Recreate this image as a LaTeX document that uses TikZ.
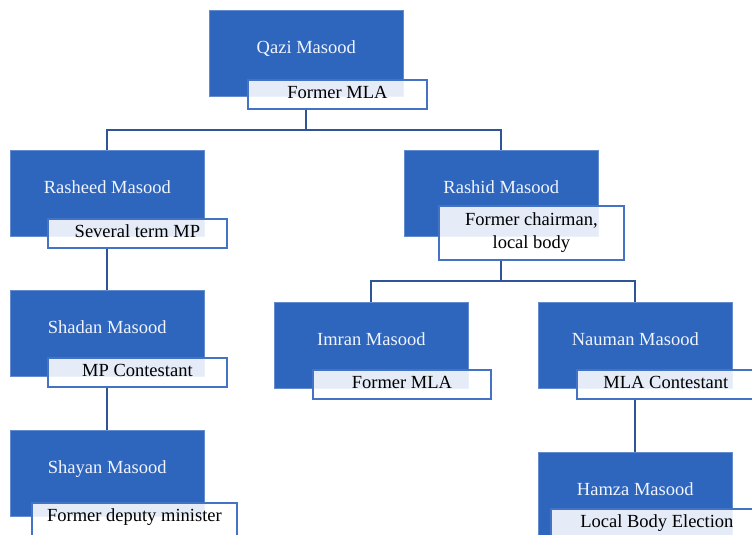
\documentclass[tikz,border=0pt]{standalone}
\usepackage{fontspec}
\setmainfont{Liberation Serif}
\definecolor{boxblue}{RGB}{46,102,190}
\definecolor{edgeblue}{RGB}{68,114,196}
\definecolor{linkblue}{RGB}{47,85,151}
\definecolor{nametxt}{RGB}{240,244,252}
\begin{document}
\begin{tikzpicture}[x=1pt,y=-1pt,font=\fontsize{18.5}{23}\selectfont,
  bluebox/.style={rectangle,fill=boxblue,draw=boxblue!75!white,line width=0.6pt,
    minimum width=194pt,minimum height=86pt,inner sep=0pt,anchor=north west,
    text=nametxt,text height=12pt,text depth=12pt},
  lblbase/.style={rectangle,draw=edgeblue,line width=1.8pt,fill=white,
    fill opacity=0.88,text opacity=1,draw opacity=1,inner sep=0pt,
    anchor=north west,text=black},
  lbl/.style={lblbase,minimum height=29pt,text height=13pt,text depth=4pt},
  link/.style={draw=linkblue,line width=1.8pt}]
\useasboundingbox (0,0) rectangle (752,535);
\clip (0,0) rectangle (752,535);
% boxes
\node[bluebox] (qazi) at (209,10) {Qazi Masood};
\node[bluebox] (rasheed) at (10,150) {Rasheed Masood};
\node[bluebox] (rashid) at (404,150) {Rashid Masood};
\node[bluebox] (shadan) at (10,290) {Shadan Masood};
\node[bluebox] (shayan) at (10,430) {Shayan Masood};
\node[bluebox] (imran) at (274,302) {Imran Masood};
\node[bluebox] (nauman) at (538,302) {Nauman Masood};
\node[bluebox] (hamza) at (538,452) {Hamza Masood};
% labels
\node[lbl,minimum width=179pt] (qazil) at (247,79) {Former MLA};
\node[lbl,minimum width=179pt] (rasheedl) at (47,218) {Several term MP};
\node[lblbase,minimum width=185pt,minimum height=54pt,align=center] (rashidl) at (438,205) {Former chairman,\\local body};
\node[lbl,minimum width=179pt] (shadanl) at (47,357) {MP Contestant};
\node[lbl,minimum width=205pt,minimum height=40pt,text depth=15pt] (shayanl) at (31,502) {Former deputy minister};
\node[lbl,minimum width=178pt] (imranl) at (312,369) {Former MLA};
\node[lbl,minimum width=178pt] (naumanl) at (576,369) {MLA Contestant};
\node[lbl,minimum width=212pt,minimum height=40pt,text depth=15pt] (hamzal) at (550,508) {Local Body Election};
% connectors
\draw[link] (qazi.south |- qazil.south) -- ++(0,20) -| (rasheed.north);
\draw[link] (qazi.south |- qazil.south) -- ++(0,20) -| (rashid.north);
\draw[link] (rasheed.south |- rasheedl.south) -- (shadan.north);
\draw[link] (shadan.south |- shadanl.south) -- (shayan.north);
\draw[link] (rashid.south |- rashidl.south) -- ++(0,20) -| (imran.north);
\draw[link] (rashid.south |- rashidl.south) -- ++(0,20) -| (nauman.north);
\draw[link] (nauman.south |- naumanl.south) -- (hamza.north);
\end{tikzpicture}
\end{document}
